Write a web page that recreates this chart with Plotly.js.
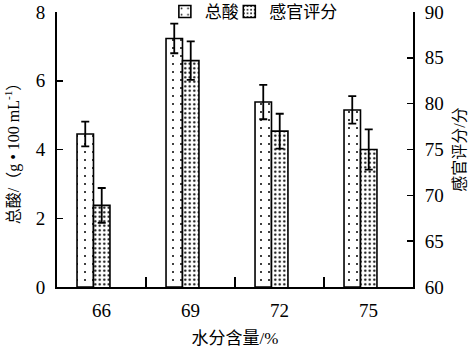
<!DOCTYPE html>
<html>
<head>
<meta charset="utf-8">
<script src="https://cdn.plot.ly/plotly-3.0.1.min.js"></script>
<style>
html,body{margin:0;padding:0;background:#fff;}
#chart{width:475px;height:354px;}
</style>
</head>
<body>
<div id="chart"></div>
<script>
// Data
var categories = ['66', '69', '72', '75'];
var totalAcid = [4.45, 7.23, 5.38, 5.15];
var totalAcidErr = [0.36, 0.43, 0.50, 0.40];
var sensoryScore = [68.9, 84.7, 77.0, 75.0];
var sensoryErr = [1.9, 2.1, 1.9, 2.2];
var seriesNames = ['总酸', '感官评分'];
var xTitle = '水分含量/%';
var yTitle = '总酸/（g • 100 mL<sup>-1</sup>）';
var y2Title = '感官评分/分';

var FONT = "'Liberation Serif', 'Noto Sans CJK SC', serif";

var traces = [
  {
    type: 'bar', name: seriesNames[0], x: categories, y: totalAcid,
    xaxis: 'x', yaxis: 'y', legend: 'legend',
    offset: -0.275, width: 0.185,
    marker: {
      color: '#fff',
      line: {color: '#000', width: 1.6},
      pattern: {shape: '.', size: 8, solidity: 0.05, fgcolor: '#000', bgcolor: '#fff'}
    },
    error_y: {type: 'data', array: totalAcidErr, visible: true, color: '#000', thickness: 1.8, width: 4}
  },
  {
    type: 'bar', name: seriesNames[1], x: categories, y: sensoryScore,
    xaxis: 'x', yaxis: 'y2', legend: 'legend2',
    offset: -0.09, width: 0.185,
    base: 0,
    marker: {
      color: '#fff',
      line: {color: '#000', width: 1.6},
      pattern: {shape: '.', size: 4.5, solidity: 0.2, fgcolor: '#000', bgcolor: '#fff'}
    },
    error_y: {type: 'data', array: sensoryErr, visible: true, color: '#000', thickness: 1.8, width: 4}
  }
];

var legendCommon = {
  orientation: 'h', y: 1, yanchor: 'middle', xanchor: 'left',
  font: {family: FONT, size: 17, color: '#000'},
  bgcolor: 'rgba(0,0,0,0)', itemwidth: 30
};

var layout = {
  width: 475, height: 354,
  margin: {l: 57, r: 62, t: 12, b: 67, pad: 0, autoexpand: false},
  paper_bgcolor: '#fff', plot_bgcolor: '#fff',
  font: {family: FONT, color: '#000', size: 19},
  showlegend: true,
  legend: Object.assign({}, legendCommon, {x: 0.303}),
  legend2: Object.assign({}, legendCommon, {x: 0.484}),
  xaxis: {
    type: 'category', range: [-0.5, 3.5],
    showline: true, linecolor: '#000', linewidth: 2,
    ticks: 'inside', tickson: 'boundaries', ticklen: 10, tickwidth: 1.5, tickcolor: '#000',
    showgrid: false, zeroline: false,
    tickfont: {family: FONT, size: 19},
    ticklabelstandoff: 5,
    title: {text: xTitle, font: {family: FONT, size: 17}, standoff: 12}
  },
  yaxis: {
    range: [0, 8], tickvals: [0, 2, 4, 6, 8],
    showline: true, linecolor: '#000', linewidth: 2,
    ticks: 'inside', ticklen: 6, tickwidth: 1.5, tickcolor: '#000',
    showgrid: false, zeroline: false,
    tickfont: {family: FONT, size: 19},
    ticklabelstandoff: 6,
    title: {text: yTitle, font: {family: FONT, size: 16}, standoff: 12}
  },
  yaxis2: {
    overlaying: 'y', side: 'right', anchor: 'x',
    range: [60, 90], tickvals: [60, 65, 70, 75, 80, 85, 90],
    showline: true, linecolor: '#000', linewidth: 2,
    ticks: 'inside', ticklen: 6, tickwidth: 1.5, tickcolor: '#000',
    showgrid: false, zeroline: false,
    tickfont: {family: FONT, size: 19},
    ticklabelstandoff: 6,
    title: {text: y2Title, font: {family: FONT, size: 16}, standoff: 11}
  },
  bargap: 0
};

Plotly.newPlot('chart', traces, layout, {staticPlot: true, displayModeBar: false});
</script>
</body>
</html>
